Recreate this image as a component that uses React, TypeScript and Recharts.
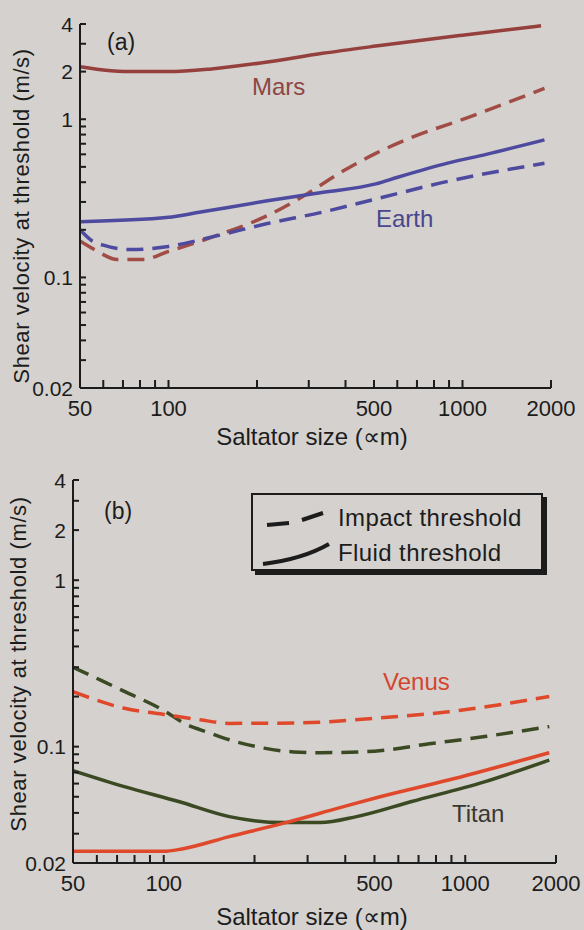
import { ComposedChart, Line, XAxis, YAxis } from "recharts";

// saltator size (µm) vs shear velocity (m/s)
const marsFluid = [
  { x: 50, y: 2.15 }, { x: 60, y: 2.05 }, { x: 74, y: 2.0 }, { x: 100, y: 2.0 }, { x: 140, y: 2.08 },
  { x: 217, y: 2.3 }, { x: 330, y: 2.6 }, { x: 507, y: 2.9 }, { x: 1000, y: 3.4 }, { x: 1850, y: 3.9 },
];
const marsImpact = [
  { x: 50, y: 0.17 }, { x: 56, y: 0.15 }, { x: 67, y: 0.13 }, { x: 82, y: 0.13 }, { x: 100, y: 0.146 },
  { x: 142, y: 0.181 }, { x: 217, y: 0.246 }, { x: 288, y: 0.327 }, { x: 382, y: 0.457 }, { x: 507, y: 0.608 },
  { x: 675, y: 0.77 }, { x: 1036, y: 1.02 }, { x: 1900, y: 1.57 },
];
const earthFluid = [
  { x: 50, y: 0.225 }, { x: 100, y: 0.24 }, { x: 124, y: 0.256 }, { x: 217, y: 0.305 }, { x: 332, y: 0.344 },
  { x: 507, y: 0.39 }, { x: 602, y: 0.43 }, { x: 897, y: 0.53 }, { x: 1204, y: 0.6 }, { x: 1900, y: 0.74 },
];
const earthImpact = [
  { x: 50, y: 0.2 }, { x: 55, y: 0.17 }, { x: 60, y: 0.16 }, { x: 74, y: 0.15 }, { x: 100, y: 0.157 },
  { x: 142, y: 0.181 }, { x: 217, y: 0.219 }, { x: 332, y: 0.258 }, { x: 507, y: 0.313 }, { x: 897, y: 0.406 },
  { x: 1900, y: 0.527 },
];
const venusFluid = [
  { x: 50, y: 0.0235 }, { x: 100, y: 0.0235 }, { x: 115, y: 0.0243 }, { x: 165, y: 0.0288 }, { x: 250, y: 0.0347 },
  { x: 379, y: 0.0427 }, { x: 500, y: 0.049 }, { x: 880, y: 0.063 }, { x: 1900, y: 0.092 },
];
const venusImpact = [
  { x: 50, y: 0.214 }, { x: 74, y: 0.17 }, { x: 103, y: 0.155 }, { x: 132, y: 0.145 }, { x: 165, y: 0.138 },
  { x: 287, y: 0.139 }, { x: 500, y: 0.148 }, { x: 880, y: 0.162 }, { x: 1900, y: 0.2 },
];
const titanFluid = [
  { x: 50, y: 0.0718 }, { x: 74, y: 0.0575 }, { x: 112, y: 0.0468 }, { x: 165, y: 0.038 }, { x: 250, y: 0.035 },
  { x: 330, y: 0.035 }, { x: 436, y: 0.038 }, { x: 664, y: 0.0468 }, { x: 1165, y: 0.0617 }, { x: 1900, y: 0.083 },
];
const titanImpact = [
  { x: 50, y: 0.3 }, { x: 62, y: 0.25 }, { x: 74, y: 0.215 }, { x: 100, y: 0.165 }, { x: 118, y: 0.137 },
  { x: 140, y: 0.122 }, { x: 165, y: 0.11 }, { x: 215, y: 0.098 }, { x: 270, y: 0.093 }, { x: 330, y: 0.092 },
  { x: 500, y: 0.094 }, { x: 760, y: 0.104 }, { x: 1160, y: 0.115 }, { x: 1900, y: 0.132 },
];

const xTicks = [50, 60, 70, 80, 90, 100, 200, 300, 400, 500, 600, 700, 800, 900, 1000, 2000];
const xLabels = [50, 100, 500, 1000, 2000];
const xMajor = [100, 500, 1000];
const yTicks = [
  0.02, 0.03, 0.04, 0.05, 0.06, 0.07, 0.08, 0.09, 0.1,
  0.2, 0.3, 0.4, 0.5, 0.6, 0.7, 0.8, 0.9, 1, 2, 3, 4,
];
const yLabels = [0.02, 0.1, 1, 2, 4];
const yMajor = [0.1, 1, 2, 3];

const FONT = '"Liberation Sans", Arial, Helvetica, sans-serif';
const INK = "#1c1c1c";
const BG = "#d4d1ce";
const X_TICK = 8;
const Y_TICK = 6;
const frameLine = { stroke: INK, strokeWidth: 2 };
const tickStroke = { stroke: INK, strokeWidth: 2 };

const XTick = (props: any) => {
  const x = Number(props.x);
  const y = Number(props.y);
  const v = props.payload.value;
  if (!xLabels.includes(v)) return <g />;
  return (
    <text x={x} y={y + 28} textAnchor="middle" fontSize={22} fill={INK} fontFamily={FONT}>
      {v}
    </text>
  );
};

const YTick = (props: any) => {
  const x = Number(props.x);
  const y = Number(props.y);
  const v = props.payload.value;
  if (!yLabels.includes(v)) return <g />;
  return (
    <text x={x - 7} y={y} dy="0.36em" textAnchor="end" fontSize={21} fill={INK} fontFamily={FONT}>
      {v}
    </text>
  );
};

function Panel({ top, height, margin, xHeight, yWidth, series }: any) {
  return (
    <div style={{ position: "absolute", left: 0, top }}>
      <ComposedChart width={584} height={height} margin={margin}>
        {/* longer inward ticks at the labelled values, on zero-size axes next to the plot */}
        <XAxis
          xAxisId="major"
          type="number"
          scale="log"
          domain={[50, 2000]}
          ticks={xMajor}
          interval={0}
          allowDataOverflow
          axisLine={false}
          tick={false}
          tickLine={tickStroke}
          tickSize={-16}
          height={0}
        />
        <YAxis
          yAxisId="major"
          type="number"
          scale="log"
          domain={[0.02, 4]}
          ticks={yMajor}
          interval={0}
          allowDataOverflow
          axisLine={false}
          tick={false}
          tickLine={tickStroke}
          tickSize={-12}
          width={0}
        />
        <XAxis
          type="number"
          dataKey="x"
          scale="log"
          domain={[50, 2000]}
          ticks={xTicks}
          interval={0}
          allowDataOverflow
          axisLine={frameLine}
          tickLine={tickStroke}
          tickSize={-X_TICK}
          tickMargin={X_TICK}
          height={xHeight}
          tick={(p: any) => <XTick {...p} />}
        />
        <XAxis
          xAxisId="top"
          orientation="top"
          type="number"
          scale="log"
          domain={[50, 2000]}
          allowDataOverflow
          axisLine={frameLine}
          tick={false}
          tickLine={false}
          height={0}
        />
        <YAxis
          type="number"
          dataKey="y"
          scale="log"
          domain={[0.02, 4]}
          ticks={yTicks}
          interval={0}
          allowDataOverflow
          axisLine={frameLine}
          tickLine={tickStroke}
          tickSize={-Y_TICK}
          tickMargin={Y_TICK}
          width={yWidth}
          tick={(p: any) => <YTick {...p} />}
        />
        <YAxis
          yAxisId="right"
          orientation="right"
          type="number"
          scale="log"
          domain={[0.02, 4]}
          allowDataOverflow
          axisLine={frameLine}
          tick={false}
          tickLine={false}
          width={0}
        />
        {series.map((s: any) => (
          <Line
            key={s.name}
            data={s.data}
            dataKey="y"
            type="monotone"
            stroke={s.color}
            strokeWidth={3.5}
            strokeDasharray={s.dashed ? "17 9" : undefined}
            dot={false}
            activeDot={false}
            isAnimationActive={false}
          />
        ))}
      </ComposedChart>
    </div>
  );
}

const txt = (s: any) => ({ position: "absolute" as const, fontFamily: FONT, whiteSpace: "nowrap" as const, lineHeight: 1, ...s });

function YTitle({ cx, cy }: { cx: number; cy: number }) {
  return (
    <div
      style={txt({
        left: cx - 180,
        top: cy - 12,
        width: 360,
        textAlign: "center",
        fontSize: 22,
        color: INK,
        letterSpacing: 0.6,
        transform: "rotate(-90deg)",
      })}
    >
      Shear velocity at threshold (m/s)
    </div>
  );
}

function XTitle({ cx, cy }: { cx: number; cy: number }) {
  return (
    <div style={txt({ left: cx - 150, top: cy - 12, width: 300, textAlign: "center", fontSize: 24, color: INK })}>
      Saltator size (∝m)
    </div>
  );
}

export default function App() {
  return (
    <div style={{ position: "relative", width: 584, height: 930, background: BG, overflow: "hidden" }}>
      <style>{"body{margin:0}"}</style>
      <Panel
        top={0}
        height={465}
        margin={{ top: 24, right: 33, bottom: 0, left: 0 }}
        xHeight={77}
        yWidth={80}
        series={[
          { name: "marsFluid", data: marsFluid, color: "#95403c" },
          { name: "marsImpact", data: marsImpact, color: "#a14d46", dashed: true },
          { name: "earthFluid", data: earthFluid, color: "#4d4a9f" },
          { name: "earthImpact", data: earthImpact, color: "#4d4a9f", dashed: true },
        ]}
      />
      <Panel
        top={465}
        height={465}
        margin={{ top: 15, right: 28, bottom: 0, left: 0 }}
        xHeight={67}
        yWidth={73}
        series={[
          { name: "titanImpact", data: titanImpact, color: "#3c4a24", dashed: true },
          { name: "venusImpact", data: venusImpact, color: "#e0482c", dashed: true },
          { name: "titanFluid", data: titanFluid, color: "#3c4a24" },
          { name: "venusFluid", data: venusFluid, color: "#e0482c" },
        ]}
      />

      <YTitle cx={22} cy={217} />
      <YTitle cx={19} cy={665} />
      <XTitle cx={312} cy={437} />
      <XTitle cx={312} cy={917} />

      <div style={txt({ left: 107, top: 31, fontSize: 23, color: INK })}>(a)</div>
      <div style={txt({ left: 252, top: 75, fontSize: 24, color: "#8e4643" })}>Mars</div>
      <div style={txt({ left: 376, top: 207, fontSize: 24, color: "#4a478f" })}>Earth</div>

      <div style={txt({ left: 104, top: 500, fontSize: 23, color: INK })}>(b)</div>
      <div style={txt({ left: 383, top: 670, fontSize: 24, color: "#d4452d" })}>Venus</div>
      <div style={txt({ left: 452, top: 802, fontSize: 24, color: "#383833" })}>Titan</div>

      <div
        style={{
          position: "absolute",
          left: 251,
          top: 493,
          width: 288,
          height: 74,
          border: `2px solid ${INK}`,
          boxShadow: `4px 4px 0 ${INK}`,
        }}
      >
        <svg width={90} height={74} style={{ position: "absolute", left: 0, top: 0 }}>
          <path d="M14 30 L36 28" stroke={INK} strokeWidth={4} fill="none" />
          <path d="M49 25 L70 18" stroke={INK} strokeWidth={4} fill="none" />
          <path d="M10 69 Q50 64 76 49" stroke={INK} strokeWidth={4} fill="none" />
        </svg>
        <div style={txt({ left: 85, top: 11, fontSize: 24, color: INK, letterSpacing: 0.4 })}>Impact threshold</div>
        <div style={txt({ left: 85, top: 46, fontSize: 24, color: INK, letterSpacing: 0.4 })}>Fluid threshold</div>
      </div>
    </div>
  );
}
